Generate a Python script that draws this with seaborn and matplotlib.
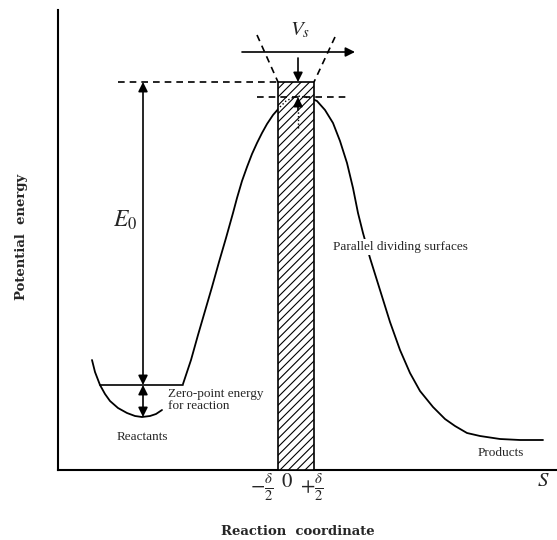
import numpy as np
import pandas as pd
import matplotlib.pyplot as plt
import seaborn as sns
from matplotlib.patches import Rectangle

# values (reaction coordinate s, potential energy E)
barrier_s = [125, 133, 140, 147, 154, 161, 168, 175, 179,
             184, 189, 194, 199, 204, 209, 215, 222, 228, 234,
             240, 246, 252, 259, 267, 275, 282, 289, 295, 300,
             305, 312, 322, 332, 342, 352, 362, 375, 387, 397,
             409, 422, 442, 462, 485]
barrier_e = [86, 110, 135, 159, 183, 208, 232, 257, 272,
             289, 303, 316, 327, 337, 346, 355, 363, 369, 372,
             374, 373, 372, 369, 360, 347, 329, 307, 282, 257,
             237, 212, 180, 148, 120, 97, 79, 63, 51, 44,
             37, 34, 31, 30, 30]

well_s = [34, 37, 42, 47, 52, 60, 69, 77, 84, 92, 98, 104]
well_e = [110, 98, 85, 76, 69, 62, 57, 54, 53, 54, 56, 60]

zero_point_e = 85
well_min_e = 53
barrier_top_e = 388
peak_e = 374
peak_s = 240

surface_left = 220
surface_right = 256

tick_pos = [204, 229, 254]
tick_labels = [r'$-\frac{\delta}{2}$', r'$0$', r'$+\frac{\delta}{2}$']

curve = pd.DataFrame({'s': barrier_s, 'E': barrier_e})
well = pd.DataFrame({'s': well_s, 'E': well_e})

sns.set_theme(style='white')
plt.rcParams['font.family'] = ['Liberation Serif', 'DejaVu Serif']
plt.rcParams['mathtext.fontset'] = 'stix'
plt.rcParams['hatch.linewidth'] = 0.8

fig = plt.figure(figsize=(5.57, 5.40), dpi=100)
ax = fig.add_axes([58 / 557, 70 / 540, 499 / 557, 460 / 540])

sns.lineplot(data=curve, x='s', y='E', sort=False, color='black', lw=1.3, ax=ax)
sns.lineplot(data=well, x='s', y='E', sort=False, color='black', lw=1.3, ax=ax)

# zero-point level
ax.plot([well_s[2], barrier_s[0]], [zero_point_e, zero_point_e], color='black', lw=1.2)

# dividing surfaces
ax.add_patch(Rectangle((surface_left, 0), surface_right - surface_left, barrier_top_e,
                       facecolor='white', edgecolor='black', hatch='////', lw=1.2, zorder=3))
inside = curve[(curve.s >= surface_left) & (curve.s <= surface_right)]
ax.plot(inside.s, inside.E, color='black', lw=1.0, ls=':', zorder=4)

# dashed levels
ax.plot([60, surface_left], [barrier_top_e, barrier_top_e], color='black', lw=1.2, ls=(0, (4, 3)))
ax.plot([199, 292], [peak_e - 1, peak_e - 1], color='black', lw=1.2, ls=(0, (4, 3)), zorder=5)
ax.plot([199, surface_left], [435, barrier_top_e], color='black', lw=1.2, ls=(0, (4, 3)))
ax.plot([277, surface_right], [433, barrier_top_e], color='black', lw=1.2, ls=(0, (4, 3)))

head = dict(arrowstyle='-|>', color='black', lw=1.2, mutation_scale=14, shrinkA=0, shrinkB=0)
both = dict(arrowstyle='<|-|>', color='black', lw=1.2, mutation_scale=14, shrinkA=0, shrinkB=0)

# V_s arrow
ax.annotate('', xy=(297, 418), xytext=(184, 418), arrowprops=head)
ax.text(242, 440, r'$V_s$', fontsize=15, ha='center', va='center')

# arrows onto the surface
ax.annotate('', xy=(peak_s, barrier_top_e), xytext=(peak_s, 412), arrowprops=head, zorder=6)
ax.plot([peak_s, peak_s], [342, 360], color='black', lw=1.0, ls=':', zorder=6)
ax.annotate('', xy=(peak_s, peak_e - 1), xytext=(peak_s, 360), arrowprops=head, zorder=6)

# E0 and zero-point arrows
ax.annotate('', xy=(85, barrier_top_e), xytext=(85, zero_point_e), arrowprops=both)
ax.annotate('', xy=(85, zero_point_e), xytext=(85, well_min_e), arrowprops=both)
ax.text(67, 250, r'$E_0$', fontsize=17, ha='center', va='center')

ax.text(110, 70, 'Zero-point energy\nfor reaction', fontsize=9.5, ha='left', va='center',
        linespacing=1.0)
ax.text(84, 33, 'Reactants', fontsize=9.5, ha='center', va='center')
ax.text(443, 17, 'Products', fontsize=9.5, ha='center', va='center')
ax.text(275, 223, 'Parallel dividing surfaces', fontsize=9.5, ha='left', va='center',
        bbox=dict(facecolor='white', edgecolor='none', pad=1.5))
ax.text(485, -12, r'$S$', fontsize=15, ha='center', va='center')

ax.set_xlim(0, 499)
ax.set_ylim(0, 460)
ax.set_xticks(tick_pos)
ax.set_xticklabels(tick_labels, fontsize=15)
ax.set_yticks([])
ax.tick_params(axis='x', length=0, pad=2)

ax.set_xlabel('Reaction  coordinate', fontsize=9.5, fontweight='bold', family='DejaVu Serif')
ax.xaxis.set_label_coords(0.481, -0.12)
ax.set_ylabel('Potential  energy', fontsize=9.5, fontweight='bold', family='DejaVu Serif')
ax.yaxis.set_label_coords(-0.06, 0.507)

sns.despine(ax=ax)
for side in ['left', 'bottom']:
    ax.spines[side].set_color('black')
    ax.spines[side].set_linewidth(1.5)

fig.savefig('out.png', dpi=100)
